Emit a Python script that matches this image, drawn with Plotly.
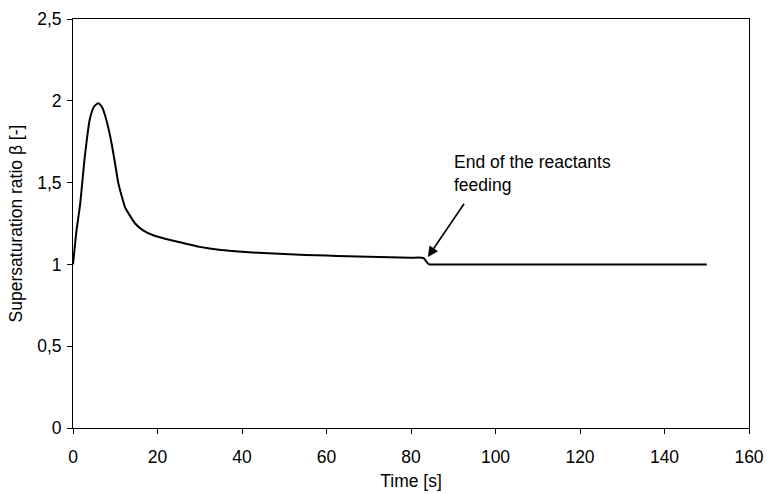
import plotly.graph_objects as go

# Data
time_s = [0, 0.8, 1.7, 2.8, 4.0, 5.0, 6.0, 7.0, 7.6, 8.4, 9.2, 10.0, 10.7, 11.5, 12.3,
          13.3, 14.7, 16.5, 19, 22, 25, 30, 35, 40, 45, 50, 55, 60, 65, 70, 75, 80,
          83.0, 83.7, 84.3, 86, 100, 120, 150]
beta = [1.0, 1.2, 1.37, 1.66, 1.89, 1.965, 1.985, 1.955, 1.91, 1.83, 1.73, 1.61, 1.50,
        1.42, 1.35, 1.305, 1.25, 1.21, 1.178, 1.155, 1.137, 1.107, 1.088, 1.077, 1.069,
        1.063, 1.058, 1.054, 1.050, 1.047, 1.044, 1.041, 1.039, 1.015, 1.0, 1.0, 1.0,
        1.0, 1.0]

x_ticks = [0, 20, 40, 60, 80, 100, 120, 140, 160]
y_ticks = [0, 0.5, 1, 1.5, 2, 2.5]

annot_text = "End of the reactants<br>feeding"
arrow_head = (84.0, 1.045)
arrow_tail = (92.8, 1.38)
text_pos = (89.6, 1.70)

FONT = "Liberation Sans, Arial, sans-serif"
FS = 17.5

fig = go.Figure()
fig.add_trace(go.Scatter(
    x=time_s, y=beta, mode="lines",
    line=dict(color="black", width=2, shape="spline", smoothing=0.6),
    showlegend=False, hoverinfo="skip",
))

fig.add_annotation(
    x=arrow_head[0], y=arrow_head[1], ax=arrow_tail[0], ay=arrow_tail[1],
    xref="x", yref="y", axref="x", ayref="y",
    text="", showarrow=True, arrowhead=2, arrowsize=1.3, arrowwidth=1.6,
    arrowcolor="black",
)
fig.add_annotation(
    x=text_pos[0], y=text_pos[1], xref="x", yref="y",
    text=annot_text, showarrow=False, xanchor="left", yanchor="top", align="left",
    font=dict(family=FONT, size=FS, color="black"),
)

axis_common = dict(
    showgrid=False, zeroline=False, showline=True, linecolor="black", linewidth=1,
    mirror=True, ticks="outside", ticklen=5, tickcolor="black", tickwidth=1,
    tickfont=dict(family=FONT, size=FS, color="black"), automargin=False,
)

fig.update_xaxes(
    range=[0, 160], tickvals=x_ticks, ticklabelstandoff=8,
    title=dict(text="Time [s]", font=dict(family=FONT, size=FS, color="black"), standoff=8),
    **axis_common,
)
fig.update_yaxes(
    range=[0, 2.5], tickvals=y_ticks, ticklabelstandoff=2,
    title=dict(text="Supersaturation ratio β [-]", font=dict(family=FONT, size=FS, color="black"), standoff=10),
    **axis_common,
)

fig.update_layout(
    width=767, height=494,
    margin=dict(l=73, r=18, t=19, b=66),
    plot_bgcolor="white", paper_bgcolor="white",
    separators=", ",
    font=dict(family=FONT, size=FS, color="black"),
)

fig.write_html(
    "out.html",
    config={"displayModeBar": False},
    post_script="document.body.style.margin='0';document.body.style.padding='0';",
)
